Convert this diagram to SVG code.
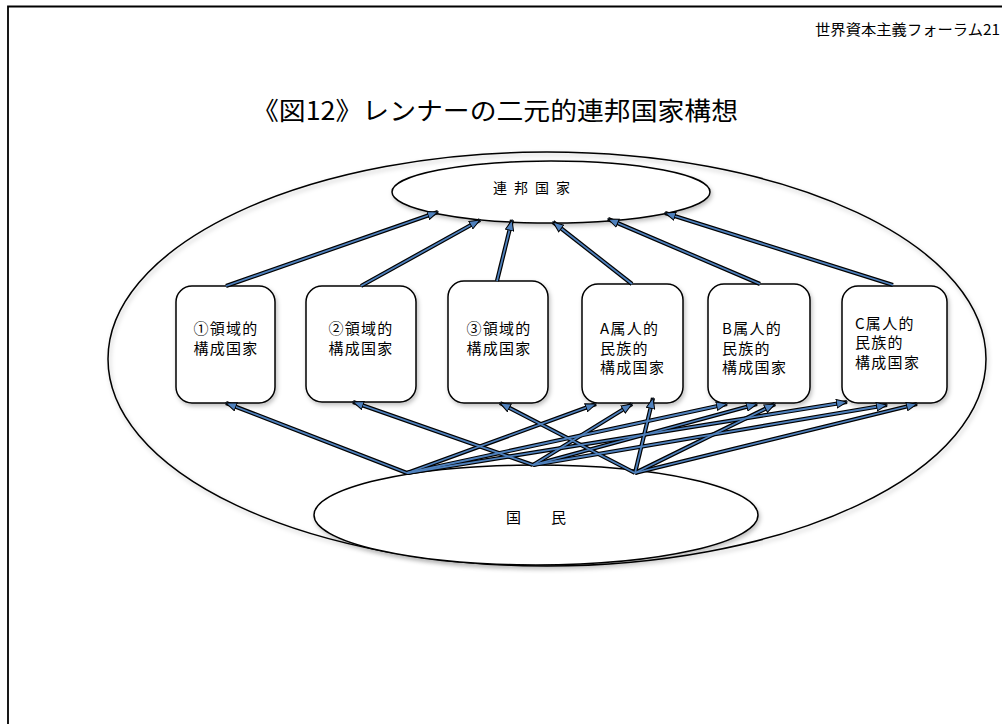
<svg xmlns="http://www.w3.org/2000/svg" width="1002" height="724" viewBox="0 0 1002 724">
<style>
  .jp { font-family: "Noto Sans CJK JP", "Liberation Sans", sans-serif; fill: #000; }
  .bx { font-size: 15px; letter-spacing: 1.3px; }
  .shape { fill: #fff; stroke: #000; stroke-width: 1.5; filter: url(#sh); }
  .outer { fill: none; stroke: #000; stroke-width: 1.5; filter: url(#sh); }
  .ln-o { stroke: #000; stroke-width: 4.2; fill: none; }
  .ln-i { stroke: #4f81bd; stroke-width: 1.8; fill: none; marker-end: url(#ah); }
</style>
<defs>
  <filter id="sh" x="-10%" y="-10%" width="120%" height="130%">
    <feDropShadow dx="1.5" dy="2.5" stdDeviation="2" flood-color="#000" flood-opacity="0.25"/>
  </filter>
  <marker id="ah" viewBox="0 0 12 10" refX="11" refY="5" markerWidth="12" markerHeight="10" markerUnits="userSpaceOnUse" orient="auto">
    <path d="M0.5,0.8 L11,5 L0.5,9.2 Z" fill="#4f81bd" stroke="#000" stroke-width="1"/>
  </marker>
</defs>
<rect width="1002" height="724" fill="#fff"/>
<path d="M8,724 L8,6.5 L1002,6.5" fill="none" stroke="#000" stroke-width="1.8"/>

<text class="jp" x="815" y="35" font-size="15" textLength="185" lengthAdjust="spacingAndGlyphs">世界資本主義フォーラム21</text>
<text class="jp" x="252" y="120" font-size="25" textLength="486" lengthAdjust="spacingAndGlyphs">《図12》レンナーの二元的連邦国家構想</text>

<g id="outer-ellipse">
  <ellipse class="outer" cx="547" cy="359" rx="439" ry="207"/>
</g>

<g id="node-federal">
  <ellipse class="shape" cx="551" cy="192" rx="159" ry="31"/>
  <text class="jp" x="493" y="193" font-size="14" textLength="77">連 邦 国 家</text>
</g>

<g id="node-people">
  <ellipse class="shape" cx="536" cy="515" rx="222" ry="50"/>
  <text class="jp" x="506" y="523" font-size="15">国　　民</text>
</g>

<g id="node-t1">
  <rect class="shape" x="176" y="286" width="99" height="117" rx="16"/>
  <text class="jp bx" text-anchor="middle"><tspan x="226" y="334">①領域的</tspan><tspan x="226" y="354">構成国家</tspan></text>
</g>
<g id="node-t2">
  <rect class="shape" x="306" y="286" width="110" height="116" rx="16"/>
  <text class="jp bx" text-anchor="middle"><tspan x="361" y="334">②領域的</tspan><tspan x="361" y="354">構成国家</tspan></text>
</g>
<g id="node-t3">
  <rect class="shape" x="448" y="281" width="100" height="122" rx="16"/>
  <text class="jp bx" text-anchor="middle"><tspan x="499" y="334">③領域的</tspan><tspan x="499" y="354">構成国家</tspan></text>
</g>
<g id="node-a">
  <rect class="shape" x="582" y="284" width="101" height="119" rx="16"/>
  <text class="jp bx"><tspan x="600" y="334">A属人的</tspan><tspan x="600" y="354">民族的</tspan><tspan x="600" y="373">構成国家</tspan></text>
</g>
<g id="node-b">
  <rect class="shape" x="708" y="284" width="102" height="119" rx="16"/>
  <text class="jp bx"><tspan x="722" y="334">B属人的</tspan><tspan x="722" y="354">民族的</tspan><tspan x="722" y="373">構成国家</tspan></text>
</g>
<g id="node-c">
  <rect class="shape" x="842" y="286" width="105" height="117" rx="16"/>
  <text class="jp bx"><tspan x="855" y="329">C属人的</tspan><tspan x="855" y="348">民族的</tspan><tspan x="855" y="368">構成国家</tspan></text>
</g>

<g id="connectors">
  <g class="ln-o">
    <path d="M226,286 L438,212"/>
    <path d="M361,286 L480,220"/>
    <path d="M497,281 L512,220"/>
    <path d="M632,284 L553,222"/>
    <path d="M760,284 L608,219"/>
    <path d="M893,285 L665,213"/>
    <path d="M407,473 L226,403"/>
    <path d="M533,465 L353,402"/>
    <path d="M635,473 L500,403"/>
    <path d="M407,473 L596,404"/>
    <path d="M533,465 L632,404"/>
    <path d="M635,473 L653,398"/>
    <path d="M407,473 L727,404"/>
    <path d="M533,465 L757,404"/>
    <path d="M635,473 L775,404"/>
    <path d="M407,473 L847,402"/>
    <path d="M533,465 L887,405"/>
    <path d="M635,473 L917,404"/>
  </g>
  <g class="ln-i">
    <path d="M226,286 L438,212"/>
    <path d="M361,286 L480,220"/>
    <path d="M497,281 L512,220"/>
    <path d="M632,284 L553,222"/>
    <path d="M760,284 L608,219"/>
    <path d="M893,285 L665,213"/>
    <path d="M407,473 L226,403"/>
    <path d="M533,465 L353,402"/>
    <path d="M635,473 L500,403"/>
    <path d="M407,473 L596,404"/>
    <path d="M533,465 L632,404"/>
    <path d="M635,473 L653,398"/>
    <path d="M407,473 L727,404"/>
    <path d="M533,465 L757,404"/>
    <path d="M635,473 L775,404"/>
    <path d="M407,473 L847,402"/>
    <path d="M533,465 L887,405"/>
    <path d="M635,473 L917,404"/>
  </g>
</g>
</svg>
